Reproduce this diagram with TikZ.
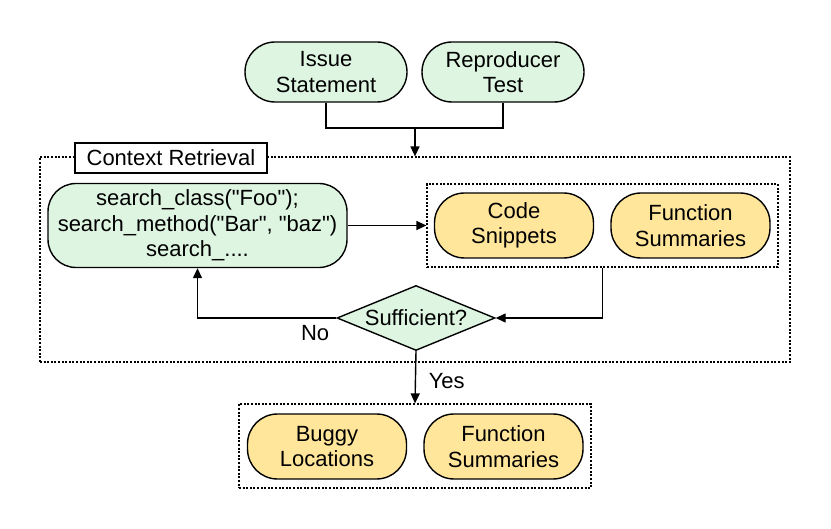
\documentclass[tikz,border=0pt]{standalone}
\usepackage{fontspec}
\setmainfont{Liberation Sans}[Ligatures=TeXOff]
\usetikzlibrary{arrows.meta,shapes.geometric}
\definecolor{inputgreen}{RGB}{222,245,225}
\definecolor{resultyellow}{RGB}{255,230,155}
\tikzset {>={Triangle[length=5pt,width=4.5pt]},
  pill/.style={draw,line width=0.7pt,rounded corners=15pt,align=center,inner sep=0pt},
  inputbox/.style={pill,fill=inputgreen,minimum width=81pt,minimum height=30pt},
  resultbox/.style={pill,fill=resultyellow,minimum width=79.5pt,minimum height=32.5pt},
  groupbox/.style={draw,line width=0.6pt,dash pattern=on 1pt off 0.8pt,inner sep=0pt},
  decision/.style={diamond,draw,line width=0.7pt,fill=inputgreen,aspect=2.43,inner sep=0pt,minimum width=79pt,minimum height=32.5pt},
  link/.style={line width=0.7pt}}

\begin{document}
\begin{tikzpicture}[x=0.5pt,y=-0.5pt,font=\fontsize{11}{12.8}\selectfont]
\useasboundingbox (0,0) rectangle (831,529);
\node[inputbox] (issue) at (326,72) {Issue\\Statement};
\node[inputbox] (repro) at (503,72) {Reproducer\\Test};
\node[groupbox,minimum width=375pt,minimum height=102.5pt] (retr) at (415,259.5) {};
\node[draw,fill=white,line width=0.7pt,minimum width=96pt,minimum height=15pt,inner sep=0pt] (retrlbl) at (171,158) {Context Retrieval};
\node[pill,fill=inputgreen,rounded corners=14pt,minimum width=149.5pt,minimum height=42pt] (search) at (197.5,225.5) {search\_class("Foo");\\search\_method("Bar", "baz")\\search\_....};
\node[groupbox,minimum width=175.5pt,minimum height=41.5pt] (snipbox) at (602.5,225.5) {};
\node[resultbox] (snip) at (514,225.5) {Code\\Snippets};
\node[resultbox] (funcsum) at (690.5,225.5) {Function\\Summaries};
\node[decision] (suff) at (416,318) {Sufficient?};
\node[below left] (nolbl) at (suff.west) {No};
\node[groupbox,minimum width=176pt,minimum height=42pt] (outbox) at (415,446) {};
\node[resultbox] (buggy) at (327,446.5) {Buggy\\Locations};
\node[resultbox] (outsum) at (503.5,446.5) {Function\\Summaries};
\coordinate (join) at (415,128);
\draw[link] (issue.south) |- (join) -| (repro.south);
\draw[link,->] (join) -- (join |- retr.north);
\draw[link,->] (search.east) -- (snipbox.west);
\draw[link,->] (snipbox.south) |- (suff.east);
\draw[link,->] (suff.west) -| (search.south);
\draw[link,->] (suff.south) -- node[right,pos=0.575,xshift=3pt] (yeslbl) {Yes} (outbox.north);
\end{tikzpicture}
\end{document}
